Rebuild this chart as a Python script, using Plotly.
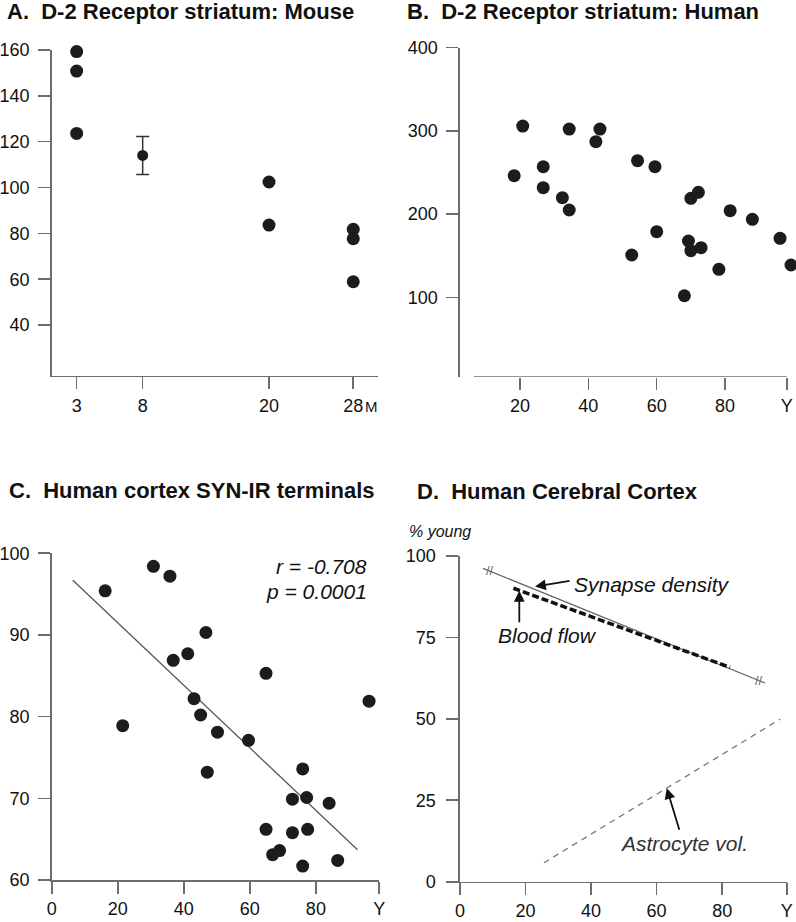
import plotly.graph_objects as go
import numpy as np

W, H = 796, 922

# ---------------- Data ----------------
# A. D-2 receptor striatum: mouse (age in months)
mouse_tick_ages = [3, 8, 20, 28]
mouse_tick_labels = ["3", "8", "20", "28"]
mouse_ages = [3, 3, 3, 20, 20, 28, 28, 28]
mouse_d2 = [159.3, 150.8, 123.6, 102.4, 83.6, 81.8, 77.7, 58.9]
mouse_mean_age = [8]
mouse_mean_d2 = [114.0]
mouse_mean_err = [8.3]

# B. D-2 receptor striatum: human (age in years)
human_age = [18.3, 20.8, 26.8, 26.8, 32.4, 34.4, 34.4, 43.4, 42.2, 54.4, 59.5, 52.7,
             60.0, 70.0, 72.2, 69.3, 70.0, 73.0, 68.1, 78.2, 81.5, 88.0, 96.1, 99.3]
human_d2 = [246.1, 305.7, 256.9, 231.7, 219.7, 204.9, 302.1, 302.1, 286.9, 264.1, 256.9, 150.9,
            178.9, 218.9, 226.1, 167.7, 156.1, 159.7, 102.0, 133.7, 204.1, 193.7, 170.9, 138.9]

# C. Human cortex SYN-IR terminals
syn_age = [16.2, 30.8, 35.8, 21.5, 36.8, 41.2, 46.7, 43.1, 45.1, 50.2, 47.1, 59.6, 64.9,
           96.1, 76.0, 72.9, 77.2, 84.0, 64.9, 72.9, 77.5, 66.9, 69.0, 76.0, 86.6]
syn_pct = [95.4, 98.4, 97.2, 78.9, 86.9, 87.7, 90.3, 82.2, 80.2, 78.1, 73.2, 77.1, 85.3,
           81.9, 73.6, 69.9, 70.1, 69.4, 66.2, 65.8, 66.2, 63.1, 63.6, 61.7, 62.4]
syn_fit_age = [6.4, 92.6]
syn_fit_pct = [96.7, 63.7]

# D. Human cerebral cortex (% young)
synapse_age = [7.0, 93.1]
synapse_pct = [96.2, 61.0]
synapse_hash_age = [9.2, 91.3]
synapse_hash_pct = [95.7, 61.7]
blood_age = [16.3, 82.4]
blood_pct = [90.1, 65.8]
astro_age = [25.6, 97.7]
astro_pct = [5.8, 49.9]

# ---------------- Helpers ----------------
def px(x):
    return x / W

def py(y):
    return 1 - y / H

FONT = "Liberation Sans, Arial, Helvetica, sans-serif"
AXC = "#6e6e6e"
MK = "#1c1c1c"

# irregular mouse age axis: display positions of the age ticks
mouse_tick_pos = [1.73, 8, 20, 28]
mouse_x = np.interp(mouse_ages, mouse_tick_ages, mouse_tick_pos)
mouse_mean_x = np.interp(mouse_mean_age, mouse_tick_ages, mouse_tick_pos)

fig = go.Figure()

# A
fig.add_trace(go.Scatter(x=mouse_x, y=mouse_d2, mode="markers", xaxis="x", yaxis="y",
                         marker=dict(size=13, color=MK), cliponaxis=False))
fig.add_trace(go.Scatter(x=mouse_mean_x, y=mouse_mean_d2, mode="markers", xaxis="x", yaxis="y",
                         marker=dict(size=11, color=MK),
                         error_y=dict(type="data", array=mouse_mean_err, color="#333",
                                      thickness=1.5, width=6.5),
                         cliponaxis=False))
# B
fig.add_trace(go.Scatter(x=human_age, y=human_d2, mode="markers", xaxis="x2", yaxis="y2",
                         marker=dict(size=13, color=MK), cliponaxis=False))
# C
fig.add_trace(go.Scatter(x=syn_fit_age, y=syn_fit_pct, mode="lines", xaxis="x3", yaxis="y3",
                         line=dict(color="#555", width=1.3), cliponaxis=False))
fig.add_trace(go.Scatter(x=syn_age, y=syn_pct, mode="markers", xaxis="x3", yaxis="y3",
                         marker=dict(size=13, color=MK), cliponaxis=False))
# D
fig.add_trace(go.Scatter(x=synapse_age, y=synapse_pct, mode="lines", xaxis="x4", yaxis="y4",
                         line=dict(color="#666", width=1.3), cliponaxis=False))
fig.add_trace(go.Scatter(x=blood_age, y=blood_pct, mode="lines", xaxis="x4", yaxis="y4",
                         line=dict(color="#111", width=3.5, dash="7px,3px"), cliponaxis=False))
fig.add_trace(go.Scatter(x=astro_age, y=astro_pct, mode="lines", xaxis="x4", yaxis="y4",
                         line=dict(color="#777", width=1.3, dash="6px,5px"), cliponaxis=False))


def axis(domain, rng, tickvals, ticktext=None, anchor=None, showline=True, standoff=0):
    d = dict(domain=domain, range=rng, tickvals=tickvals, showline=showline,
             linecolor=AXC, linewidth=1.6, ticks="outside", ticklen=12, tickwidth=1.6,
             tickcolor=AXC, showgrid=False, zeroline=False, anchor=anchor,
             automargin=False, ticklabelstandoff=standoff,
             tickfont=dict(family=FONT, size=18, color="#111"))
    if ticktext is not None:
        d["ticktext"] = ticktext
    return d

fig.update_layout(
    width=W, height=H, margin=dict(l=0, r=0, t=0, b=0, pad=0, autoexpand=False),
    paper_bgcolor="white", plot_bgcolor="white", showlegend=False,
    xaxis=axis([px(51.7), px(378)], [-0.64, 30.35], mouse_tick_pos, mouse_tick_labels, "y",
               standoff=1),
    yaxis=axis([py(375.7), py(50)], [17.9, 160], [40, 60, 80, 100, 120, 140, 160], None, "x",
               standoff=5),
    xaxis2=axis([px(460), 1.0], [2.44, 100.77], [20, 40, 60, 80, 98.05],
                ["20", "40", "60", "80", "Y"], "y2", showline=False, standoff=1),
    yaxis2=axis([py(376.7), py(47.5)], [4.8, 400], [100, 200, 300, 400], None, "x2",
                standoff=5),
    xaxis3=axis([px(51.7), px(379.3)], [0, 99.2], [0, 20, 40, 60, 80, 99.2],
                ["0", "20", "40", "60", "80", "Y"], "y3", standoff=0),
    yaxis3=axis([py(880), py(553.3)], [60, 100], [60, 70, 80, 90, 100], None, "x3",
                standoff=5),
    xaxis4=axis([px(460), px(786.7)], [0, 99.7], [0, 20, 40, 60, 80, 99.7],
                ["0", "20", "40", "60", "80", "Y"], "y4", standoff=0),
    yaxis4=axis([py(881.7), py(556)], [0, 100], [0, 25, 50, 75, 100], None, "x4",
                standoff=7),
)

# detached x-axis line of panel B
fig.add_shape(type="line", xref="x2", yref="y2", x0=6.5, x1=98.05, y0=4.8, y1=4.8,
              line=dict(color=AXC, width=1.6))

ann = []
def title(text, x, y):
    ann.append(dict(text="<b>" + text + "</b>", xref="paper", yref="paper", x=px(x), y=py(y),
                    xanchor="left", yanchor="middle", showarrow=False,
                    font=dict(family=FONT, size=22, color="#111")))

title("A.&nbsp;&nbsp;D-2 Receptor striatum: Mouse", 5, 11)
title("B.&nbsp;&nbsp;D-2 Receptor striatum: Human", 405, 11)
title("C.&nbsp;&nbsp;Human cortex SYN-IR terminals", 7.3, 490)
title("D.&nbsp;&nbsp;Human Cerebral Cortex", 415, 491)

def text(t, x, y, anchor="left", size=21, color="#111", italic=True):
    ann.append(dict(text=("<i>" + t + "</i>") if italic else t, xref="paper", yref="paper",
                    x=px(x), y=py(y), xanchor=anchor, yanchor="middle", showarrow=False,
                    font=dict(family=FONT, size=size, color=color)))

text("M", 371.7, 406.7, anchor="center", size=15, italic=False)
text("r = -0.708", 369.3, 566.7, anchor="right")
text("p = 0.0001", 369.3, 591.7, anchor="right")
text("% young", 407.3, 531.7, size=16)
text("Synapse density", 571.7, 584)
text("Blood flow", 496, 635)
text("Astrocyte vol.", 618.3, 843.3, color="#333")

def arrow(x, y, ax, ay):
    ann.append(dict(text="", xref="x4", yref="y4", x=x, y=y, ax=ax, ay=ay,
                    axref="pixel", ayref="pixel", showarrow=True, arrowhead=2,
                    arrowsize=1.2, arrowwidth=1.8, arrowcolor="#111"))

arrow(22.9, 90.6, 36, -6)
arrow(18.1, 89.3, 0, 33)
arrow(63.1, 28.7, 13, 43)

for hx, hy in zip(synapse_hash_age, synapse_hash_pct):
    ann.append(dict(text="//", xref="x4", yref="y4", x=hx, y=hy, showarrow=False,
                    xanchor="center", yanchor="middle",
                    font=dict(family=FONT, size=13, color="#666")))

fig.update_layout(annotations=ann)
fig.write_html("out.html", config={"displayModeBar": False, "staticPlot": True},
               post_script="document.body.style.margin='0';document.body.style.overflow='hidden';")
